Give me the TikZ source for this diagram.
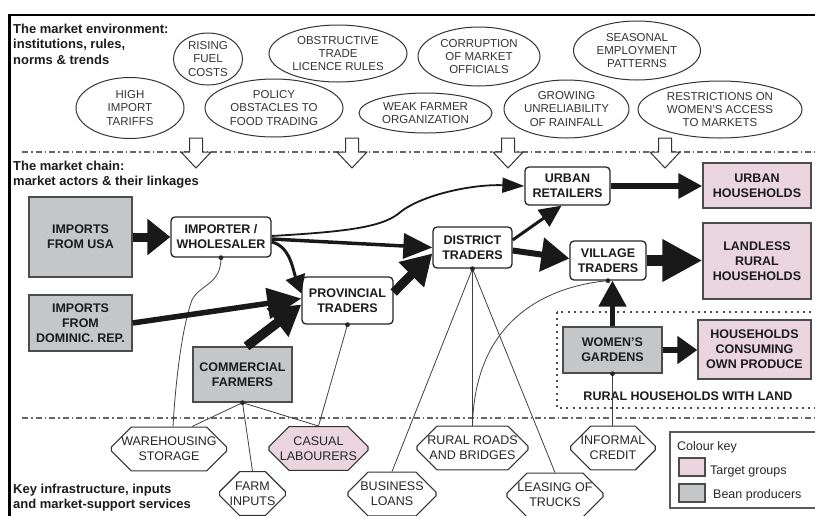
\documentclass[tikz,border=0pt]{standalone}
\usepackage{fontspec}
\setmainfont{Liberation Sans}
\usetikzlibrary{arrows.meta,shapes.geometric,shapes.misc}

\definecolor{targetpink}{RGB}{234,212,222}
\definecolor{beangray}{RGB}{197,198,200}
\definecolor{inkdark}{RGB}{28,28,32}

\tikzset{
  hdr/.style={anchor=base west, inner sep=0, font=\fontsize{13}{15.5}\selectfont\bfseries, text=inkdark},
  env/.style={ellipse, draw=black!80, line width=1pt, align=center, inner sep=0,
    font=\fontsize{11.5}{13.3}\selectfont, text=black!80},
  actor/.style={rectangle, rounded corners=4pt, draw=black!85, line width=1.3pt, fill=white,
    align=center, inner sep=0, font=\fontsize{12.5}{15}\selectfont\bfseries, text=inkdark},
  producer/.style={rectangle, draw=black!70, line width=1.3pt, fill=beangray,
    align=center, inner sep=0, font=\fontsize{12.5}{15}\selectfont\bfseries, text=inkdark},
  target/.style={producer, fill=targetpink},
  service/.style={chamfered rectangle, chamfered rectangle xsep=10pt, chamfered rectangle ysep=10pt,
    draw=black!80, line width=1.1pt, fill=white, align=center, inner sep=0,
    font=\fontsize{12.5}{15}\selectfont, text=black!85},
  flow/.style={draw=black!90, line cap=butt, line join=miter},
  link/.style={draw=black!75, line width=0.8pt},
  zoneline/.style={draw=black!60, line width=1.2pt, dash pattern=on 6pt off 3pt on 1.5pt off 3pt},
  linkdot/.style={fill=black!85},
}

\begin{document}
\begin{tikzpicture}[x=1pt,y=-1pt]
\useasboundingbox (0,0) rectangle (815,515);
\clip (0,0) rectangle (815,515);

% outer frame
\draw[line width=2.5pt] (9.5,900) -- (9.5,15) -- (900,15);

% section dividers
\draw[zoneline] (22,152) -- (815,152);
\draw[zoneline] (22,418) -- (815,418);

% section headings
\node[hdr] (h1a) at (13,33) {The market environment:};
\node[hdr] (h1b) at (13,48.5) {institutions, rules,};
\node[hdr] (h1c) at (13,64) {norms \& trends};
\node[hdr] (h2a) at (13,170) {The market chain:};
\node[hdr] (h2b) at (13,185.5) {market actors \& their linkages};
\node[hdr] (h3a) at (13,493) {Key infrastructure, inputs};
\node[hdr] (h3b) at (13,508) {and market-support services};

% market environment
\node[env, minimum width=69pt, minimum height=52pt] (fuel) at (208,59) {RISING\\FUEL\\COSTS};
\node[env, minimum width=138pt, minimum height=57pt] (licence) at (338,53.5) {OBSTRUCTIVE\\TRADE\\LICENCE RULES};
\node[env, minimum width=108pt, minimum height=61pt] (tariffs) at (130,108) {HIGH\\IMPORT\\TARIFFS};
\node[env, minimum width=138pt, minimum height=58pt] (policy) at (274,108) {POLICY\\OBSTACLES TO\\FOOD TRADING};
\node[env, minimum width=133pt, minimum height=40pt] (weak) at (425.5,113) {WEAK FARMER\\ORGANIZATION};
\node[env, minimum width=122pt, minimum height=59pt] (corrupt) at (479,56.5) {CORRUPTION\\OF MARKET\\OFFICIALS};
\node[env, minimum width=127pt, minimum height=59pt] (seasonal) at (637,50.5) {SEASONAL\\EMPLOYMENT\\PATTERNS};
\node[env, minimum width=125pt, minimum height=58pt] (rain) at (566.5,109) {GROWING\\UNRELIABILITY\\OF RAINFALL};
\node[env, minimum width=164pt, minimum height=57pt] (women) at (720,109.5) {RESTRICTIONS ON\\WOMEN’S ACCESS\\TO MARKETS};

% influence of the environment on the chain
\foreach \cx in {196,352,508,665}
  \filldraw[fill=white, draw=black!80, line width=1pt, line join=miter]
    (\cx-6.5,138) -- (\cx+6.5,138) -- (\cx+6.5,152) -- (\cx+15,152) -- (\cx,168)
    -- (\cx-15,152) -- (\cx-6.5,152) -- cycle;

% rural households with land
\draw[draw=black!70, line width=2pt, dash pattern=on 2pt off 4.2pt] (557,312) rectangle (830,408);
\node[font=\fontsize{12.5}{15}\selectfont\bfseries, text=inkdark, inner sep=0, anchor=base] (landlbl) at (688,400) {RURAL HOUSEHOLDS WITH LAND};

% market chain actors
\node[producer, minimum width=103pt, minimum height=80pt] (usa) at (80.5,237) {IMPORTS\\FROM USA};
\node[producer, minimum width=103pt, minimum height=56pt] (dom) at (80.5,323) {IMPORTS\\FROM\\DOMINIC. REP.};
\node[actor, minimum width=100pt, minimum height=40pt] (imp) at (221,237) {IMPORTER /\\WHOLESALER};
\node[actor, minimum width=91pt, minimum height=47pt] (prov) at (347.5,300.5) {PROVINCIAL\\TRADERS};
\node[producer, minimum width=99pt, minimum height=55pt] (comm) at (242.5,374.5) {COMMERCIAL\\FARMERS};
\node[actor, minimum width=79pt, minimum height=41pt] (dist) at (472.5,247.5) {DISTRICT\\TRADERS};
\node[actor, minimum width=85pt, minimum height=38pt] (urb) at (567.5,186) {URBAN\\RETAILERS};
\node[actor, minimum width=76pt, minimum height=39pt] (vil) at (608,260.5) {VILLAGE\\TRADERS};
\node[target, minimum width=108pt, minimum height=45pt] (uhh) at (757,185.5) {URBAN\\HOUSEHOLDS};
\node[target, minimum width=108pt, minimum height=76pt] (lhh) at (757,261) {LANDLESS\\RURAL\\HOUSEHOLDS};
\node[producer, minimum width=99pt, minimum height=46pt] (wg) at (612.5,350) {WOMEN’S\\GARDENS};
\node[target, minimum width=113pt, minimum height=59pt] (hhc) at (754.5,349.5) {HOUSEHOLDS\\CONSUMING\\OWN PRODUCE};

% infrastructure, inputs and services
\node[service, minimum width=108pt, minimum height=42pt] (ware) at (169,449) {WAREHOUSING\\STORAGE};
\node[service, minimum width=65pt, minimum height=41pt] (farm) at (252.5,493.5) {FARM\\INPUTS};
\node[service, fill=targetpink, minimum width=99pt, minimum height=43pt] (casual) at (318.5,448.5) {CASUAL\\LABOURERS};
\node[service, minimum width=88pt, minimum height=42pt] (loans) at (392,494) {BUSINESS\\LOANS};
\node[service, minimum width=111pt, minimum height=42pt] (roads) at (472.5,448) {RURAL ROADS\\AND BRIDGES};
\node[service, minimum width=96pt, minimum height=40pt] (trucks) at (555,495) {LEASING OF\\TRUCKS};
\node[service, minimum width=82pt, minimum height=42pt] (credit) at (613,448) {INFORMAL\\CREDIT};

% service links
\draw[link] (imp.south) .. controls (221,285) and (200,284) .. (192,300)
  .. controls (181,330) and (175,390) .. (ware.north -| 173,0);
\draw[link] (comm.south) -- (ware.north -| 192,0);
\draw[link] (comm.south) -- (farm.north);
\draw[link] (comm.south) -- (casual.north);
\draw[link] (prov.south) -- (casual.north);
\draw[link] (dist.south) -- (loans.north);
\draw[link] (dist.south) -- (roads.north);
\draw[link] (dist.south) -- (trucks.north);
\draw[link] (vil.south) .. controls (560,285) and (475,310) .. (roads.north);
\draw[link] (wg.south) -- (wg.south |- credit.north);
\foreach \n in {imp,comm,prov,dist,vil,wg}
  \fill[linkdot] (\n.south) circle (2.4pt);

% product flows
\draw[flow, line width=9pt, -{Triangle[length=23pt,width=35pt]}] (usa.east) -- (imp.west);
\draw[flow, line width=5.5pt, -{Triangle[length=34pt,width=30pt]}] (dom.east) -- ([yshift=2pt]prov.west);
\draw[flow, line width=9.5pt, -{Triangle[length=30pt,width=34pt]}] ([xshift=4pt]comm.north) -- ([yshift=-4pt]prov.west);
\draw[flow, line width=3pt, -{Triangle[length=18pt,width=20pt]}] ([yshift=-5pt]imp.east)
  .. controls (290,246) and (293,270) .. ([yshift=7pt]prov.west);
\draw[flow, line width=3.5pt, -{Triangle[length=29pt,width=25pt]}] ([yshift=-2pt]imp.east) -- (dist.west);
\draw[flow, line width=1.8pt, -{Triangle[length=22pt,width=15pt]}] ([yshift=1pt]imp.east)
  .. controls (340,232) and (380,228) .. (398,214)
  .. controls (418,196) and (470,184) .. (urb.west);
\draw[flow, line width=9pt, -{Triangle[length=30pt,width=34pt]}] ([yshift=8pt]prov.east) -- ([yshift=-6pt]dist.west);
\draw[flow, line width=3pt, -{Triangle[length=22pt,width=20pt]}] ([yshift=7.5pt]dist.east) -- ([xshift=-6pt]urb.south);
\draw[flow, line width=6pt, -{Triangle[length=28pt,width=33pt]}] ([yshift=-3pt]dist.east) -- ([yshift=2pt]vil.west);
\draw[flow, line width=6pt, -{Triangle[length=24pt,width=24pt]}] (urb.east) -- (urb.east -| uhh.west);
\draw[flow, line width=11pt, -{Triangle[length=40pt,width=40pt]}] (vil.east) -- (vil.east -| lhh.west);
\draw[flow, line width=5pt, -{Triangle[length=26pt,width=27pt]}] (wg.north) -- (wg.north |- vil.south);
\draw[flow, line width=6.5pt, -{Triangle[length=20pt,width=27pt]}] (wg.east) -- (wg.east -| hhc.west);

% colour key
\draw[draw=black!65, line width=1.2pt] (670,432) rectangle (840,508);
\node[anchor=base west, inner sep=0, font=\fontsize{12.5}{15}\selectfont, text=black!85] (keytitle) at (677,450) {Colour key};
\draw[draw=black!70, line width=1.2pt, fill=targetpink] (679,458) rectangle (705,476);
\draw[draw=black!70, line width=1.2pt, fill=beangray] (679,484) rectangle (705,502);
\node[anchor=base west, inner sep=0, font=\fontsize{12.5}{15}\selectfont, text=black!85] (keypink) at (710,474) {Target groups};
\node[anchor=base west, inner sep=0, font=\fontsize{12.5}{15}\selectfont, text=black!85] (keygray) at (713,498) {Bean producers};
\end{tikzpicture}
\end{document}
